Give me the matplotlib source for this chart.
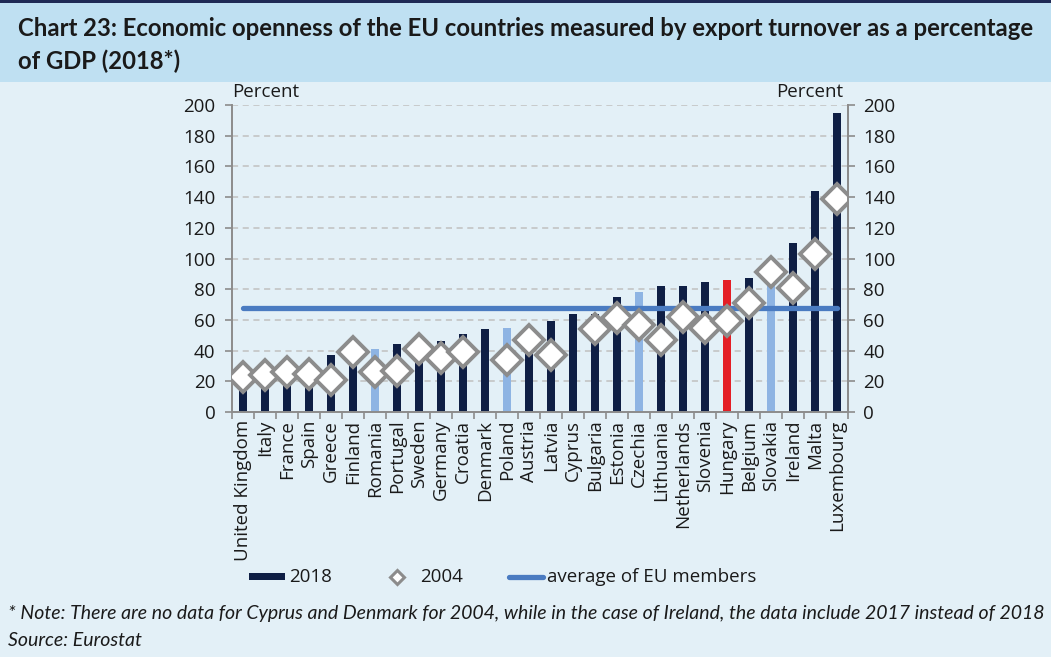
import numpy as np
import matplotlib
matplotlib.use("Agg")
import matplotlib.pyplot as plt
from matplotlib.patches import Rectangle
from matplotlib.lines import Line2D

countries = ["United Kingdom", "Italy", "France", "Spain", "Greece", "Finland",
             "Romania", "Portugal", "Sweden", "Germany", "Croatia", "Denmark",
             "Poland", "Austria", "Latvia", "Cyprus", "Bulgaria", "Estonia",
             "Czechia", "Lithuania", "Netherlands", "Slovenia", "Hungary",
             "Belgium", "Slovakia", "Ireland", "Malta", "Luxembourg"]
values_2018 = [30, 31, 31, 33, 37, 39, 41, 44, 45, 46, 51, 54, 55, 53, 59, 64,
               64, 75, 78, 82, 82, 85, 86, 87, 92, 110, 144, 195]
values_2004 = [23, 24, 26, 25, 21, 39, 26, 27, 41, 35, 39, np.nan, 34, 47, 37,
               np.nan, 54, 61, 57, 47, 62, 55, 59, 71, 91, 81, 103, 139]
eu_average = 68
y_ticks = [0, 20, 40, 60, 80, 100, 120, 140, 160, 180, 200]

NAVY = "#0f1f45"
LIGHT = "#8eb4e3"
RED = "#e41e26"
AVG = "#4a7bc1"
GREY = "#8c8c8c"
BG = "#e3f0f7"
BAND = "#bfe0f2"
TXT = "#1a1a1a"

bar_colors = []
for c in countries:
    if c == "Hungary":
        bar_colors.append(RED)
    elif c in ("Romania", "Poland", "Czechia", "Slovakia"):
        bar_colors.append(LIGHT)
    else:
        bar_colors.append(NAVY)

W, H = 1051, 657
fig = plt.figure(figsize=(W / 100, H / 100), dpi=100, facecolor=BG)

# header band
fig.patches.append(Rectangle((0, 1 - 82 / H), 1, 82 / H, transform=fig.transFigure,
                             facecolor=BAND, edgecolor="none", zorder=0))
fig.patches.append(Rectangle((0, 1 - 3 / H), 1, 3 / H, transform=fig.transFigure,
                             facecolor="#1f2a55", edgecolor="none", zorder=1))

renderer = fig.canvas.get_renderer()


def fit_text(x_px, y_px, s, width_px, base=14, **kw):
    t = fig.text(x_px / W, 1 - y_px / H, s, fontsize=base, va="center", ha="left", **kw)
    w = t.get_window_extent(renderer).width
    t.set_fontsize(base * width_px / w)
    return t


t1 = fit_text(18, 28, "Chart 23: Economic openness of the EU countries measured by export turnover as a percentage",
              1022, family="Lato", fontweight="bold", color=TXT)
fig.text(18 / W, 1 - 61 / H, "of GDP (2018*)", fontsize=t1.get_fontsize(),
         family="Lato", fontweight="bold", color=TXT, va="center", ha="left")

f1 = fit_text(8, 613, "* Note: There are no data for Cyprus and Denmark for 2004, while in the case of Ireland, the data include 2017 instead of 2018",
              1040, family="Lato", style="italic", color=TXT)
fig.text(8 / W, 1 - 640 / H, "Source: Eurostat", fontsize=f1.get_fontsize(),
         family="Lato", style="italic", color=TXT, va="center", ha="left")

# main axes
left, right, top, bottom = 232, 848, 105, 412
ax = fig.add_axes([left / W, 1 - bottom / H, (right - left) / W, (bottom - top) / H])
ax.set_facecolor("none")
x = np.arange(len(countries))
ax.set_xlim(-0.5, len(countries) - 0.5)
ax.set_ylim(0, 200)

ax.bar(x, values_2018, width=0.32, color=bar_colors, zorder=2)
ax.plot([x[0], x[-1]], [eu_average, eu_average], color=AVG, lw=3.8,
        solid_capstyle="round", zorder=3)
ax.plot(x, values_2004, linestyle="none", marker="D", markersize=15,
        markerfacecolor="white", markeredgecolor=GREY, markeredgewidth=2.8, zorder=4)

ax.set_yticks(y_ticks)
ax.grid(axis="y", color="#c0c0c0", linestyle=(0, (4, 3)), linewidth=1.1, zorder=1)
ax.set_axisbelow(True)

FS = 13.5
tick_font = dict(family="Open Sans", size=FS, color=TXT)
ax.set_yticklabels([str(v) for v in y_ticks], fontdict=tick_font)
ax.tick_params(axis="y", direction="out", length=5, color=GREY, width=1.2, pad=7)

ax.set_xticks(np.arange(len(countries) + 1) - 0.5, minor=False)
ax.set_xticklabels([])
ax.tick_params(axis="x", direction="out", length=5, color=GREY, width=1.2)
for xi, name in zip(x, countries):
    ax.text(xi, -5, name, rotation=90, ha="center", va="top",
            transform=ax.transData, fontdict=tick_font, clip_on=False)

ax.spines["top"].set_visible(False)
for side in ("left", "right", "bottom"):
    ax.spines[side].set_color(GREY)
    ax.spines[side].set_linewidth(1.4)

ax2 = ax.twinx()
ax2.set_ylim(0, 200)
ax2.set_yticks(y_ticks)
ax2.set_yticklabels([str(v) for v in y_ticks], fontdict=tick_font)
ax2.tick_params(axis="y", direction="out", length=5, color=GREY, width=1.2, pad=6)
for side in ("top", "left", "bottom"):
    ax2.spines[side].set_visible(False)
ax2.spines["right"].set_color(GREY)
ax2.spines["right"].set_linewidth(1.4)

fig.text(266 / W, 1 - 92 / H, "Percent", ha="center", va="center", **tick_font)
fig.text(810 / W, 1 - 92 / H, "Percent", ha="center", va="center", **tick_font)

# legend keys
ly = 1 - 577 / H
fig.patches.append(Rectangle((249 / W, 1 - 580 / H), 36 / W, 7 / H, transform=fig.transFigure,
                             facecolor=NAVY, edgecolor="none"))
fig.text(289 / W, ly, "2018", ha="left", va="center", **tick_font)
fig.lines.append(Line2D([397 / W], [ly], transform=fig.transFigure, marker="D", markersize=7,
                        markerfacecolor="white", markeredgecolor=GREY, markeredgewidth=2.2))
fig.text(420 / W, ly, "2004", ha="left", va="center", **tick_font)
fig.lines.append(Line2D([509 / W, 543 / W], [ly, ly], transform=fig.transFigure, color=AVG,
                        lw=3.8, solid_capstyle="round"))
fig.text(547 / W, ly, "average of EU members", ha="left", va="center", **tick_font)

fig.savefig("out.png", dpi=100, facecolor=BG)
